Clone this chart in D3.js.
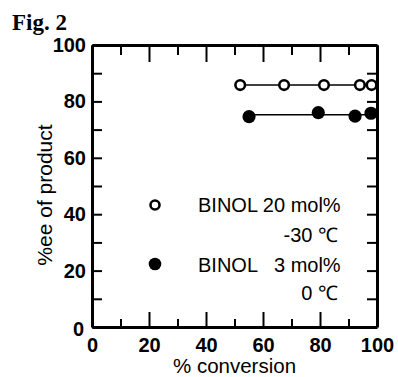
<!DOCTYPE html>
<html>
<head>
<meta charset="utf-8">
<script src="https://cdn.jsdelivr.net/npm/d3@7"></script>
<style>
  html, body { margin: 0; padding: 0; background: #fff; }
  svg { display: block; }
  text { font-family: "Liberation Sans", Arial, sans-serif; fill: #000; }
</style>
</head>
<body>
<div id="chart"></div>
<script>
// data
const conv20 = [52, 67.4, 81.4, 94, 98.1];   // BINOL 20 mol%, -30 C
const ee20 = [85.8, 85.8, 85.8, 85.8, 85.8];
const conv3 = [55.1, 79.4, 92.3, 97.9];      // BINOL 3 mol%, 0 C
const ee3 = [74.6, 76, 74.8, 75.8];
const tickStep = 10;
const labelStep = 20;

const width = 398;
const height = 377;
const margin = { top: 45, right: 21, bottom: 50, left: 92 };
const w = width - margin.left - margin.right;
const h = height - margin.top - margin.bottom;

const svg = d3.select("#chart")
  .append("svg")
  .attr("width", width)
  .attr("height", height);

svg.append("rect").attr("width", width).attr("height", height).attr("fill", "#fff");

const g = svg.append("g")
  .attr("transform", `translate(${margin.left},${margin.top})`);

const x = d3.scaleLinear().domain([0, 100]).range([0, w]);
const y = d3.scaleLinear().domain([0, 100]).range([h, 0]);

const ticks = d3.range(0, 101, tickStep);
const isMajor = (d) => d % labelStep === 0;

// bottom axis
const xAxis = g.append("g")
  .attr("transform", `translate(0,${h})`)
  .call(d3.axisBottom(x).tickValues(ticks).tickSizeInner(-8).tickSizeOuter(0).tickPadding(11)
    .tickFormat((d) => (isMajor(d) ? d : "")));
xAxis.selectAll(".tick line").attr("y2", (d) => (isMajor(d) ? -15 : -8));

// top axis
const topAxis = g.append("g")
  .call(d3.axisTop(x).tickValues(ticks).tickSizeInner(-10).tickSizeOuter(0).tickFormat(""));
topAxis.selectAll(".tick line").attr("y2", (d) => (isMajor(d) ? 17 : 10));

// left axis
const yAxis = g.append("g")
  .call(d3.axisLeft(y).tickValues(ticks).tickSizeInner(-10).tickSizeOuter(0).tickPadding(6)
    .tickFormat((d) => (isMajor(d) ? d : "")));

// right axis
g.append("g")
  .attr("transform", `translate(${w},0)`)
  .call(d3.axisRight(y).tickValues(ticks).tickSizeInner(-10).tickSizeOuter(0).tickFormat(""));

g.selectAll(".domain").attr("stroke", "#000").attr("stroke-width", 3);
g.selectAll(".tick line").attr("stroke", "#000").attr("stroke-width", 2);
g.selectAll(".tick text")
  .style("font-family", "'Liberation Sans', Arial, sans-serif")
  .style("font-size", "20px")
  .style("font-weight", "bold")
  .attr("fill", "#000");
yAxis.selectAll(".tick text").filter((d) => d === 0).attr("x", -8).attr("dy", "0.42em");

// fitted lines
g.append("line")
  .attr("x1", x(d3.min(conv20))).attr("x2", x(d3.max(conv20)))
  .attr("y1", y(d3.mean(ee20))).attr("y2", y(d3.mean(ee20)))
  .attr("stroke", "#000").attr("stroke-width", 1.5);
g.append("line")
  .attr("x1", x(d3.min(conv3))).attr("x2", x(d3.max(conv3)))
  .attr("y1", y(d3.mean(ee3))).attr("y2", y(d3.mean(ee3)))
  .attr("stroke", "#000").attr("stroke-width", 1.5);

// points
g.selectAll(".open")
  .data(conv20.map((c, i) => [c, ee20[i]]))
  .enter()
  .append("circle")
  .attr("cx", (d) => x(d[0]))
  .attr("cy", (d) => y(d[1]))
  .attr("r", 4.8)
  .attr("fill", "#fff")
  .attr("stroke", "#000")
  .attr("stroke-width", 2.6);

g.selectAll(".filled")
  .data(conv3.map((c, i) => [c, ee3[i]]))
  .enter()
  .append("circle")
  .attr("cx", (d) => x(d[0]))
  .attr("cy", (d) => y(d[1]))
  .attr("r", 6.6)
  .attr("fill", "#000");

// legend
svg.append("circle").attr("cx", 155).attr("cy", 205).attr("r", 4.5)
  .attr("fill", "#fff").attr("stroke", "#000").attr("stroke-width", 2.6);
svg.append("circle").attr("cx", 155).attr("cy", 264).attr("r", 6.3).attr("fill", "#000");

const legendText = [
  { t: "BINOL 20 mol%", x: 198, y: 212, anchor: "start" },
  { t: "-30 \u2103", x: 338, y: 242, anchor: "end" },
  { t: "BINOL   3 mol%", x: 198, y: 272, anchor: "start" },
  { t: "0 \u2103", x: 338, y: 300, anchor: "end" }
];
svg.selectAll(".leg")
  .data(legendText)
  .enter()
  .append("text")
  .attr("x", (d) => d.x)
  .attr("y", (d) => d.y)
  .attr("text-anchor", (d) => d.anchor)
  .style("font-size", "20px")
  .style("white-space", "pre")
  .text((d) => d.t);

// axis titles
svg.append("text")
  .attr("x", margin.left + w / 2)
  .attr("y", 373)
  .attr("text-anchor", "middle")
  .style("font-size", "20.5px")
  .text("% conversion");

svg.append("text")
  .attr("transform", "translate(52,195) rotate(-90)")
  .attr("text-anchor", "middle")
  .style("font-size", "21px")
  .text("%ee of product");

// figure label
svg.append("text")
  .attr("x", 12)
  .attr("y", 30)
  .style("font-family", "'Liberation Serif', 'Times New Roman', serif")
  .style("font-size", "23px")
  .style("font-weight", "bold")
  .text("Fig. 2");
</script>
</body>
</html>
